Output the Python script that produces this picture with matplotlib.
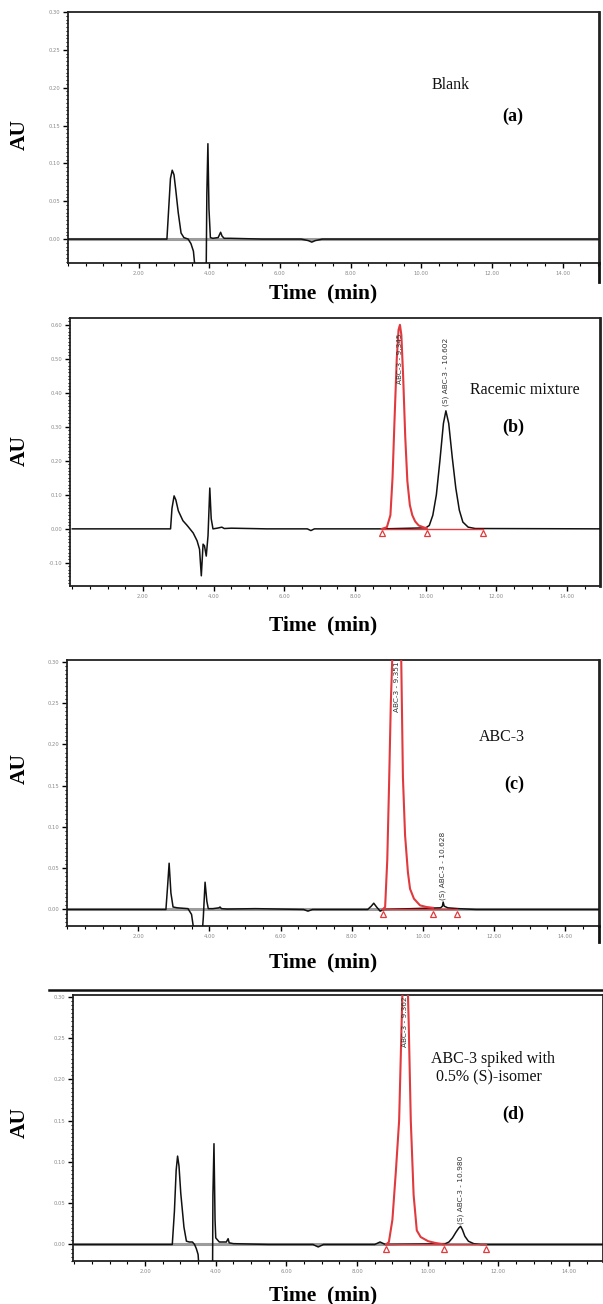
import matplotlib
matplotlib.use("Agg")
import matplotlib.pyplot as plt
from matplotlib.ticker import MultipleLocator, FixedLocator
from matplotlib.lines import Line2D

W, H = 603, 1304

# ---------------- data ----------------
# Panel (a) Blank
a_t = [0, 2.80, 2.85, 2.90, 2.95, 3.00, 3.05, 3.12, 3.20, 3.28, 3.40, 3.48, 3.55, 3.62,
       3.70, 3.85, 3.91, 3.93, 3.96, 3.99, 4.03, 4.10, 4.25, 4.32, 4.36, 4.42, 4.60,
       5.50, 6.60, 6.80, 6.90, 7.00, 7.20, 10.0, 15.0]
a_y = [0, 0, 0.040, 0.080, 0.091, 0.085, 0.065, 0.035, 0.008, 0.002, 0.000, -0.006, -0.016, -0.050,
       -0.060, -0.060, -0.050, 0.060, 0.126, 0.040, 0.002, 0.001, 0.002, 0.009, 0.004, 0.001, 0.001,
       0.000, 0.000, -0.002, -0.004, -0.002, 0.000, 0.000, 0.000]

# Panel (b) Racemic mixture
b_t = [0, 2.78, 2.82, 2.88, 2.93, 3.00, 3.13, 3.25, 3.42, 3.53, 3.60, 3.65, 3.70, 3.74,
       3.79, 3.84, 3.89, 3.93, 3.98, 4.10, 4.23, 4.30, 4.50, 5.50, 6.65, 6.75, 6.85, 7.00,
       8.80, 10.00, 10.10, 10.20, 10.30, 10.40,
       10.50, 10.57, 10.65, 10.75, 10.85, 10.95, 11.05, 11.20, 11.40, 15.0]
b_y = [0, 0, 0.060, 0.097, 0.085, 0.053, 0.024, 0.010, -0.012, -0.035, -0.060, -0.138, -0.045, -0.050,
       -0.080, -0.020, 0.120, 0.030, 0.000, 0.002, 0.005, 0.001, 0.002, 0.000, 0.000, -0.005, 0.000, 0.000,
       0.000, 0.003, 0.010, 0.040, 0.100, 0.200,
       0.310, 0.347, 0.310, 0.210, 0.120, 0.055, 0.020, 0.005, 0.001, 0.000]
b_red_t = [8.76, 8.90, 9.00, 9.06, 9.12, 9.18, 9.23, 9.27, 9.31, 9.36, 9.42, 9.48, 9.55, 9.62, 9.70, 9.80, 9.95, 10.03]
b_red_y = [0.000, 0.005, 0.040, 0.150, 0.330, 0.500, 0.585, 0.600, 0.570, 0.450, 0.270, 0.140, 0.070, 0.040, 0.022, 0.010, 0.004, 0.002]
b_marks = [8.76, 10.03, 11.62]

# Panel (c) ABC-3
c_t = [0, 2.78, 2.83, 2.87, 2.92, 2.98, 3.10, 3.40, 3.50, 3.58, 3.62, 3.68, 3.72, 3.78,
       3.83, 3.88, 3.93, 3.97, 4.10, 4.27, 4.30, 4.34, 4.50, 5.30, 6.65, 6.77, 6.90, 8.45,
       8.55, 8.62, 8.70, 8.80, 8.90, 10.50, 10.55, 10.57, 10.60, 10.70, 11.00, 11.50, 15.0]
c_y = [0, 0, 0.030, 0.056, 0.020, 0.003, 0.002, 0.001, -0.006, -0.030, -0.030, -0.040, -0.030, -0.040,
       -0.010, 0.033, 0.010, 0.001, 0.001, 0.002, 0.003, 0.001, 0.0005, 0.001, 0.000, -0.002, 0.000, 0.000,
       0.004, 0.0076, 0.003, -0.002, 0.000, 0.002, 0.004, 0.009, 0.004, 0.002, 0.001, 0.000, 0.000]
c_red_t = [8.87, 8.94, 9.00, 9.05, 9.10, 9.16, 9.22, 9.28, 9.34, 9.39, 9.44, 9.50, 9.58, 9.64, 9.75, 9.92, 10.10, 10.28]
c_red_y = [0.000, 0.003, 0.060, 0.150, 0.250, 0.330, 0.410, 0.440, 0.400, 0.310, 0.160, 0.090, 0.045, 0.025, 0.013, 0.005, 0.003, 0.002]
c_marks = [8.87, 10.28, 10.95]

# Panel (d) ABC-3 spiked with 0.5% (S)-isomer
d_t = [0, 2.77, 2.83, 2.88, 2.92, 2.96, 3.01, 3.10, 3.17, 3.25, 3.34, 3.40, 3.45, 3.50,
       3.53, 3.60, 3.85, 3.91, 3.92, 3.95, 3.98, 4.00, 4.10, 4.30, 4.35, 4.38, 4.50, 5.50,
       6.75, 6.90, 7.05, 8.50, 8.65, 8.80, 10.50, 10.60, 10.70, 10.80, 10.88, 10.93, 10.98,
       11.05, 11.15, 11.30, 11.50, 15.0]
d_y = [0, 0, 0.040, 0.090, 0.107, 0.095, 0.062, 0.021, 0.004, 0.003, 0.003, 0.000, -0.005, -0.012,
       -0.030, -0.040, -0.040, -0.030, 0.060, 0.122, 0.030, 0.008, 0.003, 0.003, 0.007, 0.002, 0.001, 0.000,
       0.000, -0.003, 0.000, 0.000, 0.003, 0.000, 0.001, 0.003, 0.008, 0.015, 0.020, 0.022, 0.018,
       0.010, 0.004, 0.001, 0.000, 0.000]
d_red_t = [8.82, 8.90, 9.00, 9.10, 9.19, 9.28, 9.33, 9.37, 9.41, 9.46, 9.52, 9.60, 9.69, 9.80, 10.01, 10.20, 10.46]
d_red_y = [0.000, 0.003, 0.030, 0.090, 0.150, 0.300, 0.360, 0.380, 0.350, 0.270, 0.150, 0.060, 0.017, 0.009, 0.004, 0.002, 0.000]
d_marks = [8.82, 10.46, 11.65]

x_ticks = [2, 4, 6, 8, 10, 12, 14]
x_tick_labels = ["2.00", "4.00", "6.00", "8.00", "10.00", "12.00", "14.00"]
y_ticks_a = [0.00, 0.05, 0.10, 0.15, 0.20, 0.25, 0.30]
y_ticks_b = [-0.10, 0.00, 0.10, 0.20, 0.30, 0.40, 0.50, 0.60]

titles = ["Blank", "Racemic mixture", "ABC-3", "ABC-3 spiked with"]
letters = ["(a)", "(b)", "(c)", "(d)"]
peak_labels = {
    "b": ("ABC-3 - 9.345", "(S) ABC-3 - 10.602"),
    "c": ("ABC-3 - 9.351", "(S) ABC-3 - 10.628"),
    "d": ("ABC-3 - 9.362", "(S) ABC-3 - 10.980"),
}

# ---------------- figure ----------------
fig = plt.figure(figsize=(W / 100, H / 100), dpi=100)
SERIF = ["Liberation Serif", "DejaVu Serif"]
RED = "#e03a3e"


def rect(l, t, r, b):
    return [l / W, 1 - b / H, (r - l) / W, (b - t) / H]


def fx(x):
    return x / W


def fy(y):
    return 1 - y / H


def style(ax, yticks, ymin_loc, xlim, ylim):
    ax.set_xlim(*xlim)
    ax.set_ylim(*ylim)
    ax.xaxis.set_major_locator(FixedLocator(x_ticks))
    ax.set_xticklabels(x_tick_labels)
    ax.xaxis.set_minor_locator(MultipleLocator(0.5))
    ax.set_yticks(yticks)
    ax.set_yticklabels([f"{v:.2f}" for v in yticks])
    ax.yaxis.set_minor_locator(MultipleLocator(ymin_loc))
    ax.tick_params(which="major", direction="out", length=3.5, width=1.0,
                   labelsize=3.8, labelcolor="#8a8a8a", pad=2)
    ax.tick_params(which="minor", direction="out", length=1.8, width=0.8)
    for s in ax.spines.values():
        s.set_linewidth(1.3)
        s.set_color("#222222")
    ax.spines["right"].set_linewidth(2.0)


panels = [
    dict(rect=rect(68, 12, 599, 263), xlim=(0, 15.03), ylim=(-0.0316, 0.2987),
         yt=y_ticks_a, ym=0.005, t=a_t, y=a_y, grey=True),
    dict(rect=rect(70, 318, 600, 586), xlim=(-0.065, 14.93), ylim=(-0.168, 0.62),
         yt=y_ticks_b, ym=0.01, t=b_t, y=b_y, grey=False),
    dict(rect=rect(67, 660, 599, 926), xlim=(0.0, 14.95), ylim=(-0.020, 0.302),
         yt=y_ticks_a, ym=0.005, t=c_t, y=c_y, grey=True),
    dict(rect=rect(73, 995, 603, 1261), xlim=(-0.04, 14.96), ylim=(-0.020, 0.302),
         yt=y_ticks_a, ym=0.005, t=d_t, y=d_y, grey=True),
]

axes = []
for p in panels:
    ax = fig.add_axes(p["rect"])
    style(ax, p["yt"], p["ym"], p["xlim"], p["ylim"])
    if p["grey"]:
        ax.axhline(0, color="#9c9c9c", lw=2.2, zorder=1)
    ax.plot(p["t"], p["y"], color="#111111", lw=1.1, zorder=3, solid_joinstyle="round")
    axes.append(ax)

reds = [(axes[1], b_red_t, b_red_y, b_marks, -0.012),
        (axes[2], c_red_t, c_red_y, c_marks, -0.006),
        (axes[3], d_red_t, d_red_y, d_marks, -0.005)]
for ax, rt, ry, mk, my in reds:
    ax.plot([mk[0], mk[-1]], [0, 0], color=RED, lw=1.0, zorder=4)
    ax.plot(rt, ry, color=RED, lw=1.5, zorder=5)
    ax.plot(mk, [my] * len(mk), linestyle="none", marker="^", markersize=4.5,
            markerfacecolor="white", markeredgecolor=RED, markeredgewidth=0.9, zorder=6)

# peak labels
lab_kw = dict(rotation=90, fontsize=5.3, color="#333333", ha="center",
              family=["DejaVu Sans"], zorder=7)
axes[1].text(9.27, 0.575, peak_labels["b"][0], va="top", **lab_kw)
axes[1].text(10.57, 0.362, peak_labels["b"][1], va="bottom", **lab_kw)
axes[2].text(9.28, 0.300, peak_labels["c"][0], va="top", **lab_kw)
axes[2].text(10.57, 0.012, peak_labels["c"][1], va="bottom", **lab_kw)
axes[3].text(9.37, 0.300, peak_labels["d"][0], va="top", **lab_kw)
axes[3].text(10.93, 0.025, peak_labels["d"][1], va="bottom", **lab_kw)

# axis labels
au_y = [134, 450, 768, 1122]
time_y = [293, 625, 962, 1295]
for yy in au_y:
    fig.text(fx(20), fy(yy), "AU", rotation=90, ha="center", va="center",
             fontsize=15.5, fontweight="bold", family=SERIF)
for yy in time_y:
    fig.text(fx(323), fy(yy), "Time  (min)", ha="center", va="center",
             fontsize=15.5, fontweight="bold", family=SERIF)

# panel annotations
tkw = dict(ha="center", va="center", fontsize=11.5, family=SERIF, color="#111111")
fig.text(fx(451), fy(85), titles[0], **tkw)
fig.text(fx(525), fy(390), titles[1], **tkw)
fig.text(fx(502), fy(737), titles[2], **tkw)
fig.text(fx(493), fy(1059), titles[3], **tkw)
fig.text(fx(436), fy(1077), "0.5% (S)-isomer", ha="left", va="center", fontsize=11.5,
         family=SERIF, color="#111111")
for (xx, yy), lt in zip([(513, 116), (513, 427), (514, 784), (513, 1114)], letters):
    fig.text(fx(xx), fy(yy), lt, ha="center", va="center", fontsize=13,
             fontweight="bold", family=SERIF)

# decorative frame extensions seen in the scan
fig.add_artist(Line2D([fx(599), fx(599)], [fy(263), fy(282)], color="#111111", lw=2.0))
fig.add_artist(Line2D([fx(599), fx(599)], [fy(926), fy(942)], color="#111111", lw=2.0))
fig.add_artist(Line2D([fx(49), fx(603)], [fy(990), fy(990)], color="#111111", lw=1.8))

fig.savefig("out.png", dpi=100)
